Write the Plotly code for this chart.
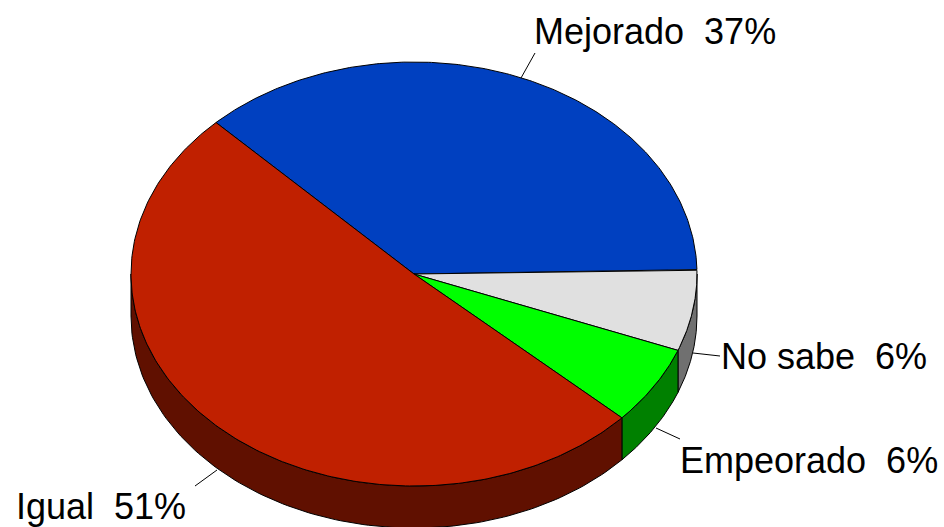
import numpy as np
import plotly.graph_objects as go

categories = ["Mejorado", "No sabe", "Empeorado", "Igual"]
values = [37.0, 6.2, 6.0, 50.8]
top_colors = ["#0040C0", "#E0E0E0", "#00FF00", "#C02000"]
side_colors = ["#002060", "#707070", "#008000", "#601000"]

CX, CY, RX, RY, DEPTH = 414, 274, 283, 212, 42
START = -44.4

label_x = [655, 824, 809, 101]
label_y = [31, 356, 460, 506]
leaders = [
    ((521, 78), (535, 53)),
    ((693, 353), (720, 356)),
    ((656, 428), (680, 439)),
    ((217, 470), (195, 486)),
]

def pt(deg, dy=0):
    a = np.radians(deg)
    return CX + RX * np.sin(a), CY - RY * np.cos(a) + dy

fig = go.Figure()
edges = START + np.concatenate([[0], np.cumsum(values)]) * 3.6
line = dict(color="black", width=1)

def add(xs, ys, color):
    fig.add_trace(go.Scatter(x=xs, y=ys, mode="lines", fill="toself", fillcolor=color,
                             line=line, hoverinfo="skip", showlegend=False))

# Side walls: only the front half (90 to 270 degrees clockwise from the top) shows
for i in range(len(values)):
    a0, a1 = max(edges[i], 90), min(edges[i + 1], 270)
    if a1 <= a0:
        continue
    t = np.linspace(a0, a1, 120)
    x, y = pt(t)
    xb, yb = pt(t[::-1], DEPTH)
    add(list(x) + list(xb) + [x[0]], list(y) + list(yb) + [y[0]], side_colors[i])

# Top faces
for i in range(len(values)):
    t = np.linspace(edges[i], edges[i + 1], 240)
    x, y = pt(t)
    add([CX] + list(x) + [CX], [CY] + list(y) + [CY], top_colors[i])

for (p0, p1) in leaders:
    fig.add_trace(go.Scatter(x=[p0[0], p1[0]], y=[p0[1], p1[1]], mode="lines", line=line,
                             hoverinfo="skip", showlegend=False))

for c, v, lx, ly in zip(categories, values, label_x, label_y):
    fig.add_annotation(x=lx, y=ly, text=f"{c}\u00a0\u00a0{round(v)}%", showarrow=False,
                       font=dict(family="Liberation Sans", size=36, color="black"),
                       xanchor="center", yanchor="middle")

fig.update_layout(
    width=944, height=527, margin=dict(l=0, r=0, t=0, b=0),
    paper_bgcolor="white", plot_bgcolor="white", showlegend=False,
    xaxis=dict(range=[0, 944], visible=False, fixedrange=True),
    yaxis=dict(range=[527, 0], visible=False, fixedrange=True),
)
fig.write_html("out.html", config=dict(displayModeBar=False),
               post_script="document.body.style.margin='0';document.documentElement.style.overflow='hidden';")
